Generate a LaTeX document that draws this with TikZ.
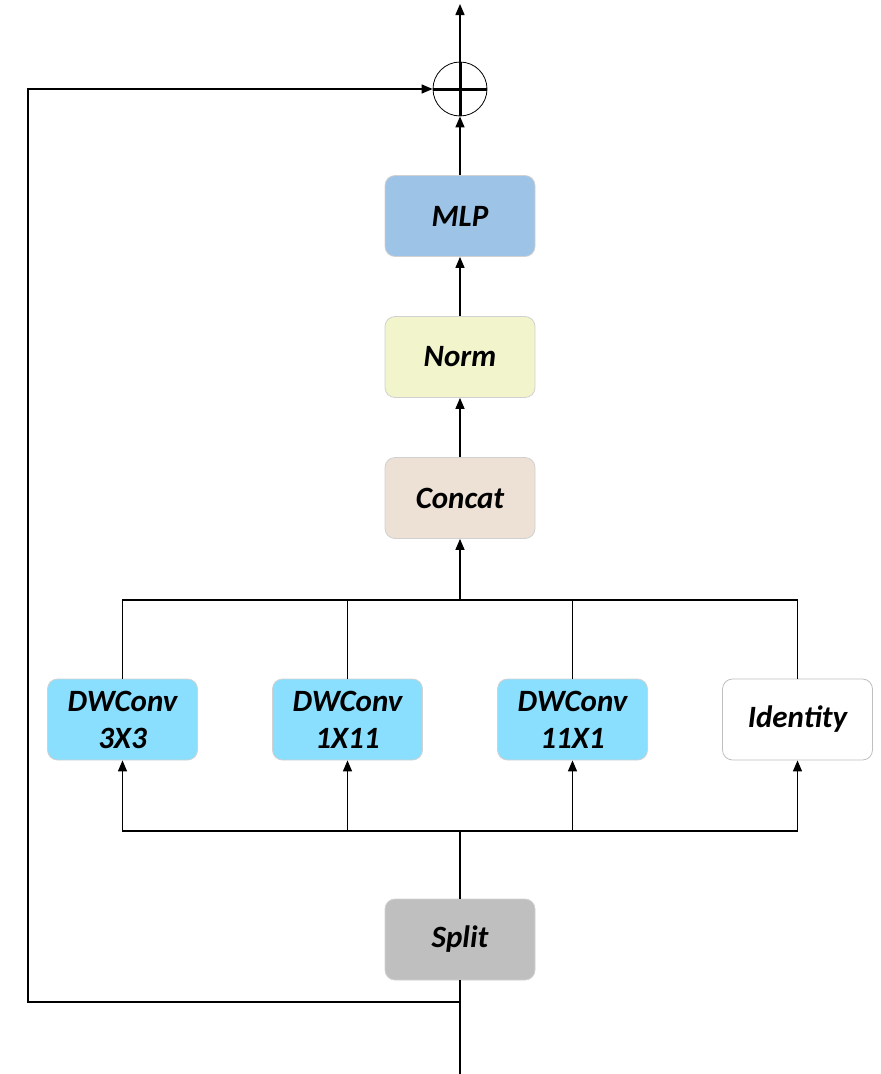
\documentclass[tikz,border=0pt]{standalone}
\usepackage{fontspec}
\setmainfont{Carlito}
\usetikzlibrary{arrows.meta}
\definecolor{mlpc}{HTML}{9DC3E6}
\definecolor{normc}{HTML}{F2F4CB}
\definecolor{concc}{HTML}{EDE0D4}
\definecolor{dwc}{HTML}{89DFFD}
\definecolor{splitc}{HTML}{BFBFBF}
\tikzset{
  blk/.style={rectangle, rounded corners=10pt, minimum width=150pt, minimum height=81pt,
    draw=black!18, line width=0.8pt, inner sep=0pt, align=center,
    font=\fontsize{31}{37}\selectfont\bfseries\itshape},
  wire/.style={line width=1.4pt, black},
  arr/.style={wire, -{Triangle[length=11pt,width=9pt]}},
}
\begin{document}
\begin{tikzpicture}[x=1pt,y=-1pt]
\useasboundingbox (0,0) rectangle (881,1074);
\node[blk, fill=mlpc] (mlp) at (460,216) {MLP};
\node[blk, fill=normc] (norm) at (460,357) {Norm};
\node[blk, fill=concc] (concat) at (460,498) {Concat};
\node[blk, fill=dwc] (dw1) at (122.5,719.5) {DWConv\\3X3};
\node[blk, fill=dwc] (dw2) at (347.5,719.5) {DWConv\\1X11};
\node[blk, fill=dwc] (dw3) at (572.5,719.5) {DWConv\\11X1};
\node[blk, fill=white, draw=black!25] (id) at (797.5,719.5) {Identity};
\node[blk, fill=splitc] (split) at (460,939.5) {Split};
\node[circle, draw, line width=0.8pt, minimum size=54pt, inner sep=0pt] (add) at (460,89) {};
\draw[line width=3pt] (add.north) -- (add.south) (add.west) -- (add.east);
\coordinate (top) at (460,4);
\coordinate (bot) at (460,1074);
\coordinate (loopa) at (460,1002);
\coordinate (loopb) at (28,1002);
\coordinate (loopc) at (28,89);
\coordinate (bin) at (460,831);
\coordinate (bout) at (460,600);
% top
\draw[arr] (add.north) -- (top);
\draw[arr] (mlp.north) -- (add.south);
\draw[arr] (norm.north) -- (mlp.south);
\draw[arr] (concat.north) -- (norm.south);
\draw[arr] (bout) -- (concat.south);
% output bus
\draw[wire] (dw1.north) |- (bout) -| (id.north);
\draw[wire] (dw2.north) -- (dw2.north |- bout);
\draw[wire] (dw3.north) -- (dw3.north |- bout);
% input bus
\draw[wire] (split.north) -- (bin);
\draw[arr] (bin) -| (dw1.south);
\draw[arr] (bin) -| (id.south);
\draw[arr] (dw2.south |- bin) -- (dw2.south);
\draw[arr] (dw3.south |- bin) -- (dw3.south);
% bottom and skip
\draw[wire] (split.south) -- (bot);
\draw[arr] (loopa) -- (loopb) -- (loopc) -- (add.west);
\end{tikzpicture}
\end{document}
